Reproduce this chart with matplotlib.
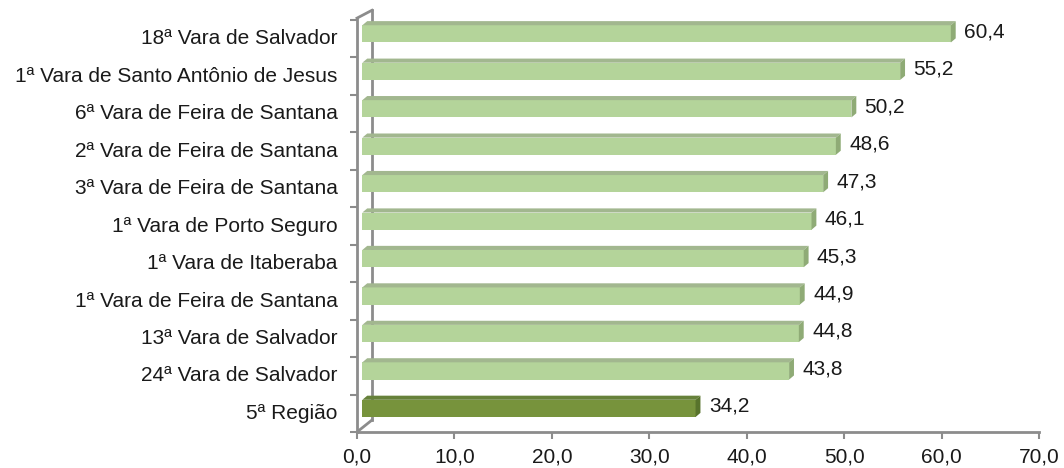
import matplotlib.pyplot as plt
from matplotlib.patches import Polygon

plt.rcParams['font.family'] = ['Liberation Sans', 'DejaVu Sans']

# Data (bottom to top)
categories = [
    "5ª Região",
    "24ª Vara de Salvador",
    "13ª Vara de Salvador",
    "1ª Vara de Feira de Santana",
    "1ª Vara de Itaberaba",
    "1ª Vara de Porto Seguro",
    "3ª Vara de Feira de Santana",
    "2ª Vara de Feira de Santana",
    "6ª Vara de Feira de Santana",
    "1ª Vara de Santo Antônio de Jesus",
    "18ª Vara de Salvador",
]
values = [34.2, 43.8, 44.8, 44.9, 45.3, 46.1, 47.3, 48.6, 50.2, 55.2, 60.4]
x_ticks = [0, 10, 20, 30, 40, 50, 60, 70]

fs = 15
txt = '#1a1a1a'

# 3D look settings
left0 = 0.55      # front face starts a bit right of the front axis
dx, dy = 0.5, 0.11  # depth of top / side faces
yoff, h = 0.13, 0.46

light = dict(front='#b4d49a', top='#a2b78f', side='#8fab76')
dark = dict(front='#77933c', top='#66813a', side='#58732c')

fig = plt.figure(figsize=(10.64, 4.68), dpi=100)
ax = fig.add_axes([357 / 1064, 36 / 468, 682 / 1064, 412 / 468])

ypos = [i + yoff for i in range(len(values))]
cols = [dark['front']] + [light['front']] * (len(values) - 1)
bars = ax.barh(ypos, values, height=h, left=left0, color=cols, zorder=3)

for i, b in enumerate(bars):
    pal = dark if i == 0 else light
    x0, y0 = b.get_x(), b.get_y()
    w, hh = b.get_width(), b.get_height()
    top = Polygon([(x0, y0 + hh), (x0 + w, y0 + hh), (x0 + w + dx, y0 + hh + dy),
                   (x0 + dx, y0 + hh + dy)], closed=True, fc=pal['top'], ec='none', zorder=3)
    side = Polygon([(x0 + w, y0), (x0 + w, y0 + hh), (x0 + w + dx, y0 + hh + dy),
                    (x0 + w + dx, y0 + dy)], closed=True, fc=pal['side'], ec='none', zorder=3)
    ax.add_patch(top)
    ax.add_patch(side)
    ax.annotate(f"{values[i]:.1f}".replace('.', ','),
                xy=(x0 + w + dx, y0 + hh / 2 + dy / 2), xytext=(6, 0),
                textcoords='offset points', va='center', ha='left',
                fontsize=fs, color=txt)

ax.set_xlim(0, 70)
ax.set_ylim(-0.5, 10.5)

# wall lines (back wall + perspective diagonals)
grey = '#8c8c8c'
ax.plot([1.54, 1.54], [-0.18, 10.76], color=grey, lw=2, clip_on=False, zorder=1)
ax.plot([0, 1.54], [10.55, 10.76], color=grey, lw=2, clip_on=False, zorder=1)
ax.plot([0, 1.54], [-0.5, -0.18], color=grey, lw=2, clip_on=False, zorder=1)
ax.plot([0, 0], [-0.5, 10.55], color=grey, lw=2, clip_on=False, zorder=2)

for s in ['top', 'right', 'left']:
    ax.spines[s].set_visible(False)
ax.spines['bottom'].set_color(grey)
ax.spines['bottom'].set_linewidth(2)

ax.set_xticks(x_ticks)
ax.set_xticklabels([f"{t:.1f}".replace('.', ',') for t in x_ticks], fontsize=fs, color=txt)
ax.tick_params(axis='x', length=5, width=1.5, color=grey, pad=6)

ax.set_yticks([i - 0.5 for i in range(len(values) + 1)])
ax.set_yticklabels([])
ax.tick_params(axis='y', which='major', length=5, width=1.5, color=grey, left=True)
ax.set_yticks([i + 0.05 for i in range(len(values))], minor=True)
ax.set_yticklabels(categories, minor=True, fontsize=fs, color=txt)
ax.tick_params(axis='y', which='minor', length=0, pad=14)

fig.savefig('out.png', dpi=100)
